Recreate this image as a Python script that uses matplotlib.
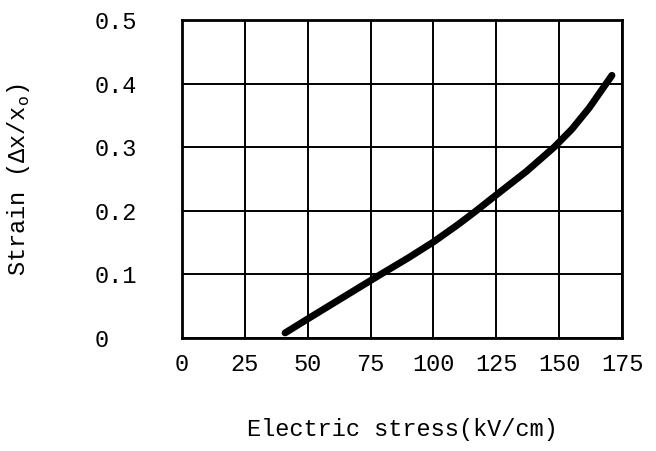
import matplotlib
matplotlib.use("Agg")
import matplotlib.pyplot as plt

# Data
stress_kv_cm = [41, 50, 62, 79, 90, 100, 110, 117, 125, 137, 148, 155, 162, 171]
strain = [0.008, 0.03, 0.059, 0.10, 0.126, 0.151, 0.179, 0.20, 0.225, 0.262, 0.30, 0.328, 0.362, 0.413]

x_ticks = [0, 25, 50, 75, 100, 125, 150, 175]
x_tick_labels = ["0", "25", "50", "75", "100", "125", "150", "175"]
y_ticks = [0, 0.1, 0.2, 0.3, 0.4, 0.5]
y_tick_labels = ["0", "0.1", "0.2", "0.3", "0.4", "0.5"]

font = "Liberation Mono"
fs = 17

fig = plt.figure(figsize=(6.56, 4.51), dpi=100)
ax = fig.add_axes([182/656, 1-338/451, 440/656, 318/451])

ax.plot(stress_kv_cm, strain, color="black", linewidth=5, solid_capstyle="round")

ax.set_xlim(0, 175)
ax.set_ylim(0, 0.5)
ax.set_xticks(x_ticks)
ax.set_xticklabels(x_tick_labels, fontfamily=font, fontsize=fs)
ax.set_yticks(y_ticks)
ax.set_yticklabels(y_tick_labels, fontfamily=font, fontsize=fs, ha="left")
ax.tick_params(axis="x", length=0, pad=11)
ax.tick_params(axis="y", length=0, pad=63)
ax.grid(True, color="black", linewidth=1.4)
for s in ax.spines.values():
    s.set_linewidth(2)

ax.set_xlabel("Electric stress(kV/cm)", fontfamily=font, fontsize=fs, labelpad=30)
ax.yaxis.set_label_coords(-0.34, 0.5)
ax.set_ylabel("Strain (Δx/x$_\\mathregular{o}$)", fontfamily=font, fontsize=fs)

fig.savefig("out.png", dpi=100)
